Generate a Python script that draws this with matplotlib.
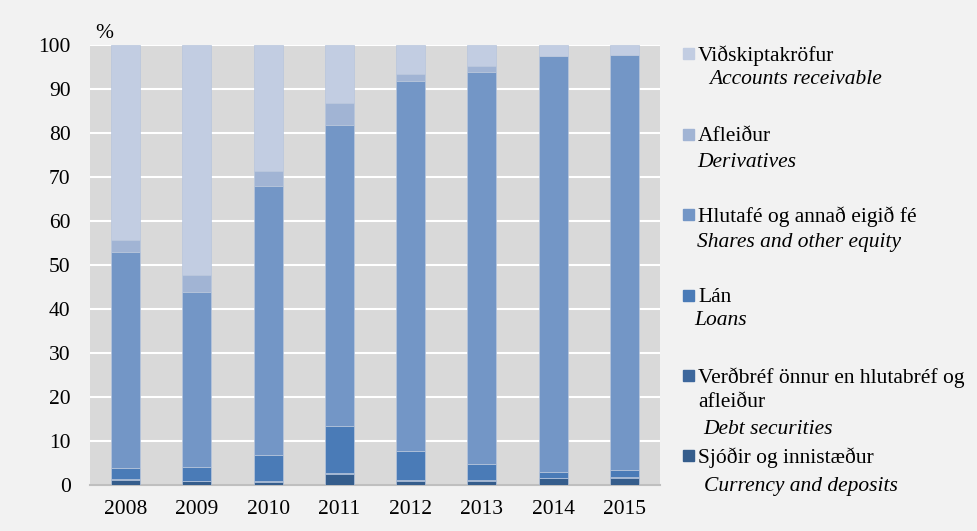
import numpy as np
import matplotlib.pyplot as plt
from matplotlib.patches import Rectangle

# === Daten ===
years = ['2008', '2009', '2010', '2011', '2012', '2013', '2014', '2015']
sjodir = [1.1, 0.8, 0.6, 2.5, 0.9, 0.9, 1.5, 1.7]
verdbref = [0.2, 0.2, 0.2, 0.3, 0.2, 0.2, 0.1, 0.1]
lan = [2.6, 3.2, 6.1, 10.5, 6.7, 3.6, 1.3, 1.5]
hlutafe = [49.1, 39.6, 61.1, 68.6, 84.0, 89.2, 94.7, 94.5]
afleidur = [2.6, 4.0, 3.4, 5.0, 1.7, 1.4, 0.0, 0.0]
vidskipta = [44.4, 52.2, 28.6, 13.1, 6.5, 4.7, 2.4, 2.2]

series = [sjodir, verdbref, lan, hlutafe, afleidur, vidskipta]
colors = ['#355d8c', '#3d679c', '#4a7bb7', '#7396c6', '#a1b4d4', '#c2cde2']
labels_is = ['Sjóðir og innistæður', 'Verðbréf önnur en hlutabréf og\nafleiður',
             'Lán', 'Hlutafé og annað eigið fé', 'Afleiður', 'Viðskiptakröfur']
labels_en = ['Currency and deposits', 'Debt securities', 'Loans',
             'Shares and other equity', 'Derivatives', 'Accounts receivable']

plt.rcParams['font.family'] = ['Liberation Serif', 'DejaVu Serif']
fs = 15.5

fig = plt.figure(figsize=(9.77, 5.31), dpi=100, facecolor='#f2f2f2')
ax = fig.add_axes([90 / 977, 46 / 531, 570 / 977, 440 / 531])
ax.set_facecolor('#d9d9d9')

x = np.arange(len(years))
bottom = np.zeros(len(years))
for vals, c in zip(series, colors):
    ax.bar(x, vals, 0.41, bottom=bottom, color=c, edgecolor='#b8c6dc',
           linewidth=0.5, zorder=3)
    bottom += np.array(vals)

ax.set_xlim(-0.5, len(years) - 0.5)
ax.set_ylim(0, 100)
ax.set_yticks(range(0, 101, 10))
ax.set_xticks(x)
ax.set_xticklabels(years)
ax.tick_params(length=0, labelsize=fs, pad=11)
ax.tick_params(axis='y', pad=14)
ax.grid(axis='y', color='white', linewidth=1.5, zorder=1)
for s in ['top', 'right', 'left']:
    ax.spines[s].set_visible(False)
ax.spines['bottom'].set_color('#bfbfbf')
ax.spines['bottom'].set_linewidth(1.5)
ax.text(-0.43, 100.5, '%', fontsize=fs, ha='left', va='bottom')

# Legende (von oben nach unten)
W, H = 977, 531
is_y = [53, 134, 214, 295, 375, 455]
en_y = [77, 160, 240, 318, 427, 484]
en_x = [709, 697, 697, 694, 703, 704]
for i, k in enumerate(range(5, -1, -1)):
    fig.patches.append(Rectangle((683 / W, 1 - (is_y[i] + 5.5) / H), 11 / W, 11 / H,
                                 transform=fig.transFigure, color=colors[k]))
    for j, line in enumerate(labels_is[k].split('\n')):
        fig.text(698 / W, 1 - (is_y[i] + 25 * j) / H, line, fontsize=fs,
                 va='center_baseline', ha='left')
    fig.text(en_x[i] / W, 1 - en_y[i] / H, labels_en[k], fontsize=fs,
             style='italic', va='center_baseline', ha='left')

fig.savefig('out.png', dpi=100, facecolor=fig.get_facecolor())
